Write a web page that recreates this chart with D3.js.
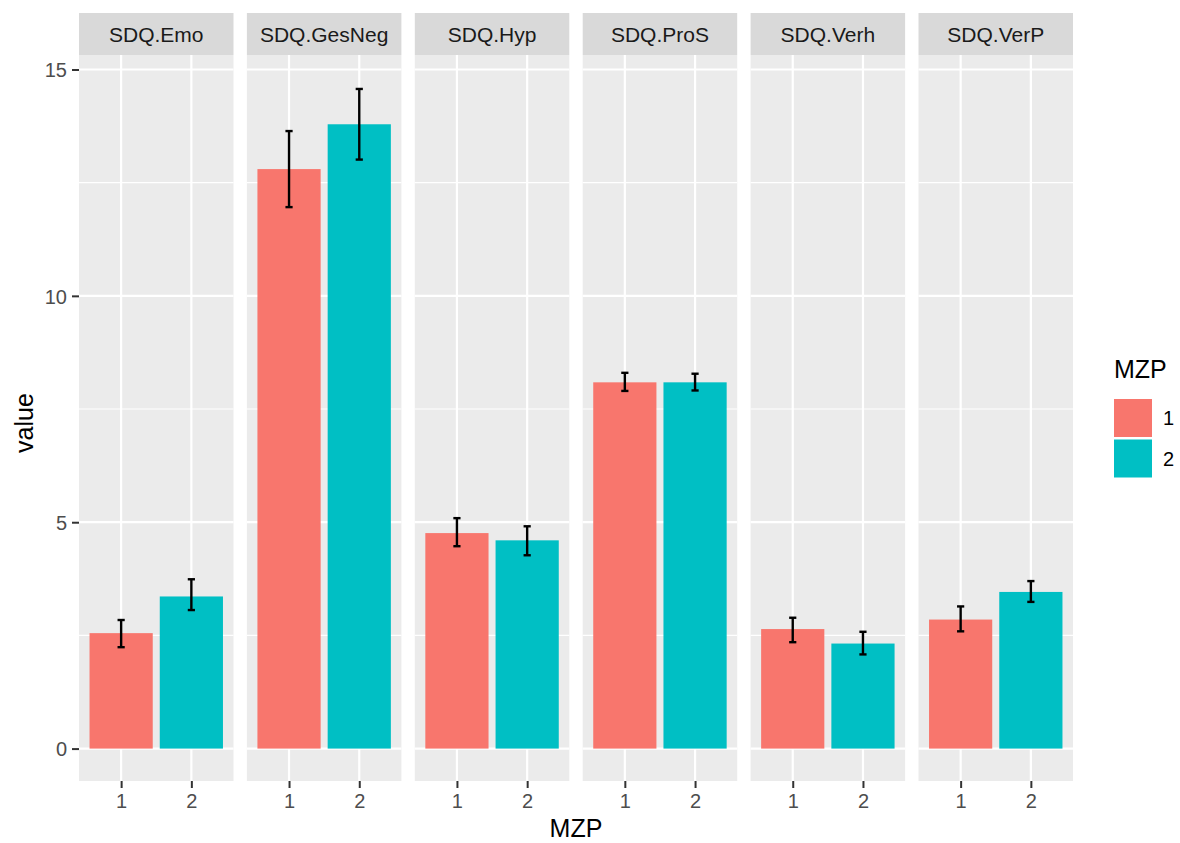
<!doctype html>
<html>
<head>
<meta charset="utf-8" />
<title>SDQ by MZP</title>
<style>
  html,body{margin:0;background:#fff}
  svg text{font-family:"Liberation Sans", Arial, sans-serif}
</style>
</head>
<body>
<svg id="chart" width="1180" height="843"></svg>
<script src="https://cdn.jsdelivr.net/npm/d3@7"></script>
<script>
// ---- data ----
const facets  = ["SDQ.Emo","SDQ.GesNeg","SDQ.Hyp","SDQ.ProS","SDQ.Verh","SDQ.VerP"];
const groups  = ["1","2"];
const means   = [[2.55,3.36],[12.80,13.79],[4.76,4.60],[8.09,8.09],[2.64,2.32],[2.85,3.46]];
const lowers  = [[2.24,3.06],[11.96,13.01],[4.47,4.27],[7.90,7.91],[2.35,2.08],[2.59,3.24]];
const uppers  = [[2.84,3.74],[13.64,14.57],[5.09,4.91],[8.30,8.28],[2.89,2.58],[3.14,3.70]];
const yTicks  = [0,5,10,15];
const yMinor  = [2.5,7.5,12.5];
const colours = ["#F8766D","#00BFC4"];

const svg = d3.select("#chart");
const FONT = "Liberation Sans, Arial, sans-serif";
const small = 20, big = 25;

// panel geometry (ggplot facet look)
const panelW = 154.5, step = 167.9, left0 = 79;
const stripTop = 13, panelTop = 55, panelBot = 781;

const y = d3.scaleLinear().domain([-0.716, 15.32]).range([panelBot, panelTop]);
// discrete axis with 0.6 expansion each side
const unit = panelW / 2.2;
const xs = d3.scalePoint().domain(groups).range([0.6 * unit, 1.6 * unit]);
const color = d3.scaleOrdinal().domain(groups).range(colours);

facets.forEach((f, i) => {
  const g = svg.append("g").attr("transform", `translate(${left0 + i * step},0)`);
  // strip
  g.append("rect").attr("x", 0).attr("y", stripTop).attr("width", panelW)
    .attr("height", panelTop - stripTop).attr("fill", "#d9d9d9");
  g.append("text").attr("x", panelW / 2).attr("y", (stripTop + panelTop) / 2 + 7.5)
    .attr("text-anchor", "middle")
    .attr("font-size", 21).attr("fill", "#1a1a1a").text(f);
  // panel
  g.append("rect").attr("x", 0).attr("y", panelTop).attr("width", panelW)
    .attr("height", panelBot - panelTop).attr("fill", "#ebebeb");
  yMinor.forEach(v => g.append("line").attr("x1", 0).attr("x2", panelW)
    .attr("y1", y(v)).attr("y2", y(v)).attr("stroke", "#fff").attr("stroke-width", 1.1));
  yTicks.forEach(v => g.append("line").attr("x1", 0).attr("x2", panelW)
    .attr("y1", y(v)).attr("y2", y(v)).attr("stroke", "#fff").attr("stroke-width", 2.2));
  groups.forEach(k => g.append("line").attr("x1", xs(k)).attr("x2", xs(k))
    .attr("y1", panelTop).attr("y2", panelBot).attr("stroke", "#fff").attr("stroke-width", 2.2));

  // bars + error bars
  groups.forEach((k, j) => {
    const cx = xs(k), w = 0.9 * unit;
    g.append("rect").attr("x", cx - w / 2).attr("width", w)
      .attr("y", y(means[i][j])).attr("height", y(0) - y(means[i][j]))
      .attr("fill", color(k));
    const cap = 3.6;
    const eb = g.append("g").attr("stroke", "#000").attr("stroke-width", 2.4);
    eb.append("line").attr("x1", cx).attr("x2", cx).attr("y1", y(uppers[i][j])).attr("y2", y(lowers[i][j]));
    eb.append("line").attr("x1", cx - cap).attr("x2", cx + cap).attr("y1", y(uppers[i][j])).attr("y2", y(uppers[i][j]));
    eb.append("line").attr("x1", cx - cap).attr("x2", cx + cap).attr("y1", y(lowers[i][j])).attr("y2", y(lowers[i][j]));
  });

  // x axis
  const ax = g.append("g").attr("transform", `translate(0,${panelBot})`)
    .call(d3.axisBottom(xs).tickSize(7).tickPadding(5));
  ax.select(".domain").remove();
  ax.selectAll(".tick line").attr("stroke", "#333").attr("stroke-width", 2);
  ax.selectAll(".tick text").attr("font-size", small).attr("fill", "#4d4d4d")
    .attr("font-family", FONT).attr("dy", null).attr("y", 27);
});

// y axis
const ay = svg.append("g").attr("transform", `translate(${left0},0)`)
  .call(d3.axisLeft(y).tickValues(yTicks).tickSize(7).tickPadding(5));
ay.select(".domain").remove();
ay.selectAll(".tick line").attr("stroke", "#333").attr("stroke-width", 2);
ay.selectAll(".tick text").attr("font-size", small).attr("fill", "#4d4d4d")
  .attr("font-family", FONT).attr("dy", "0.36em");

// axis titles
const plotRight = left0 + 5 * step + panelW;
svg.append("text").attr("x", (left0 + plotRight) / 2).attr("y", 837)
  .attr("text-anchor", "middle").attr("font-size", big).attr("fill", "#000").text("MZP");
svg.append("text").attr("transform", `translate(33,423) rotate(-90)`)
  .attr("text-anchor", "middle").attr("font-size", big).attr("fill", "#000").text("value");

// legend
const lg = svg.append("g").attr("transform", "translate(1114,0)");
lg.append("text").attr("x", 0).attr("y", 378).attr("font-size", big).attr("fill", "#000").text("MZP");
groups.forEach((k, j) => {
  const ky = 399 + j * 40.5;
  lg.append("rect").attr("x", 0).attr("y", ky).attr("width", 38).attr("height", 38).attr("fill", color(k));
  lg.append("text").attr("x", 49).attr("y", ky + 19 + 7)
    .attr("font-size", small).attr("fill", "#000").text(k);
});
</script>
</body>
</html>
